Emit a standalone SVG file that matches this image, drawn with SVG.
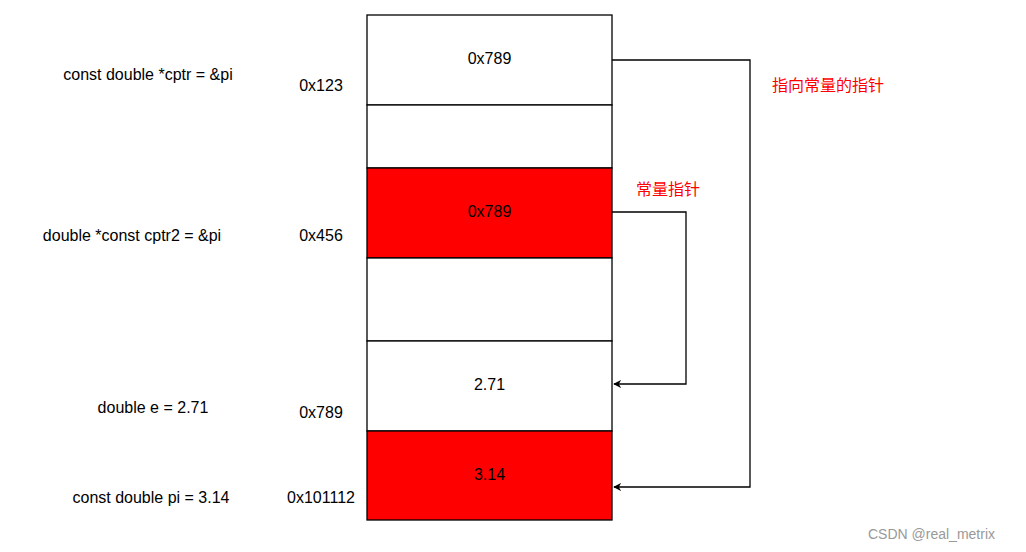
<svg xmlns="http://www.w3.org/2000/svg" width="1026" height="552" viewBox="0 0 1026 552">
<style>
text{font-family:"Liberation Sans","Noto Sans CJK SC",sans-serif;font-size:16px;fill:#000}
.c{text-anchor:middle}
.r{fill:#ff0000}
.cell{stroke:#000;stroke-width:1.3}
.ln{fill:none;stroke:#000;stroke-width:1.3}
</style>
<defs><marker id="a" viewBox="0 0 10 10" refX="9" refY="5" markerWidth="8" markerHeight="8" orient="auto" markerUnits="userSpaceOnUse"><path d="M0,0L10,5L0,10L3,5z" fill="#000"/></marker></defs>
<rect width="1026" height="552" fill="#fff"/>
<g id="cell1"><rect class="cell" x="367" y="15" width="245" height="90" fill="#fff"/><text class="c" x="489.5" y="64">0x789</text></g>
<g id="cell2"><rect class="cell" x="367" y="105" width="245" height="63" fill="#fff"/></g>
<g id="cell3"><rect class="cell" x="367" y="168" width="245" height="90" fill="#ff0000"/><text class="c" x="489.5" y="217">0x789</text></g>
<g id="cell4"><rect class="cell" x="367" y="258" width="245" height="83" fill="#fff"/></g>
<g id="cell5"><rect class="cell" x="367" y="341" width="245" height="90" fill="#fff"/><text class="c" x="489.5" y="390">2.71</text></g>
<g id="cell6"><rect class="cell" x="367" y="431" width="245" height="89" fill="#ff0000"/><text class="c" x="489.5" y="480">3.14</text></g>
<g id="labels">
<text class="c" x="148" y="80">const double *cptr = &amp;pi</text>
<text class="c" x="321" y="91">0x123</text>
<text class="c" x="132" y="241">double *const cptr2 = &amp;pi</text>
<text class="c" x="321" y="241">0x456</text>
<text class="c" x="153" y="413">double e = 2.71</text>
<text class="c" x="321" y="418">0x789</text>
<text class="c" x="151" y="503">const double pi = 3.14</text>
<text class="c" x="321" y="503">0x101112</text>
<text class="r" x="772" y="91">指向常量的指针</text>
<text class="r" x="636" y="195">常量指针</text>
</g>
<g id="connectors">
<path class="ln" d="M612,60H750V487H614" marker-end="url(#a)"/>
<path class="ln" d="M612,212H686V384H614" marker-end="url(#a)"/>
</g>
<text x="868" y="539" style="font-size:14px;fill:#999">CSDN @real_metrix</text>
</svg>
